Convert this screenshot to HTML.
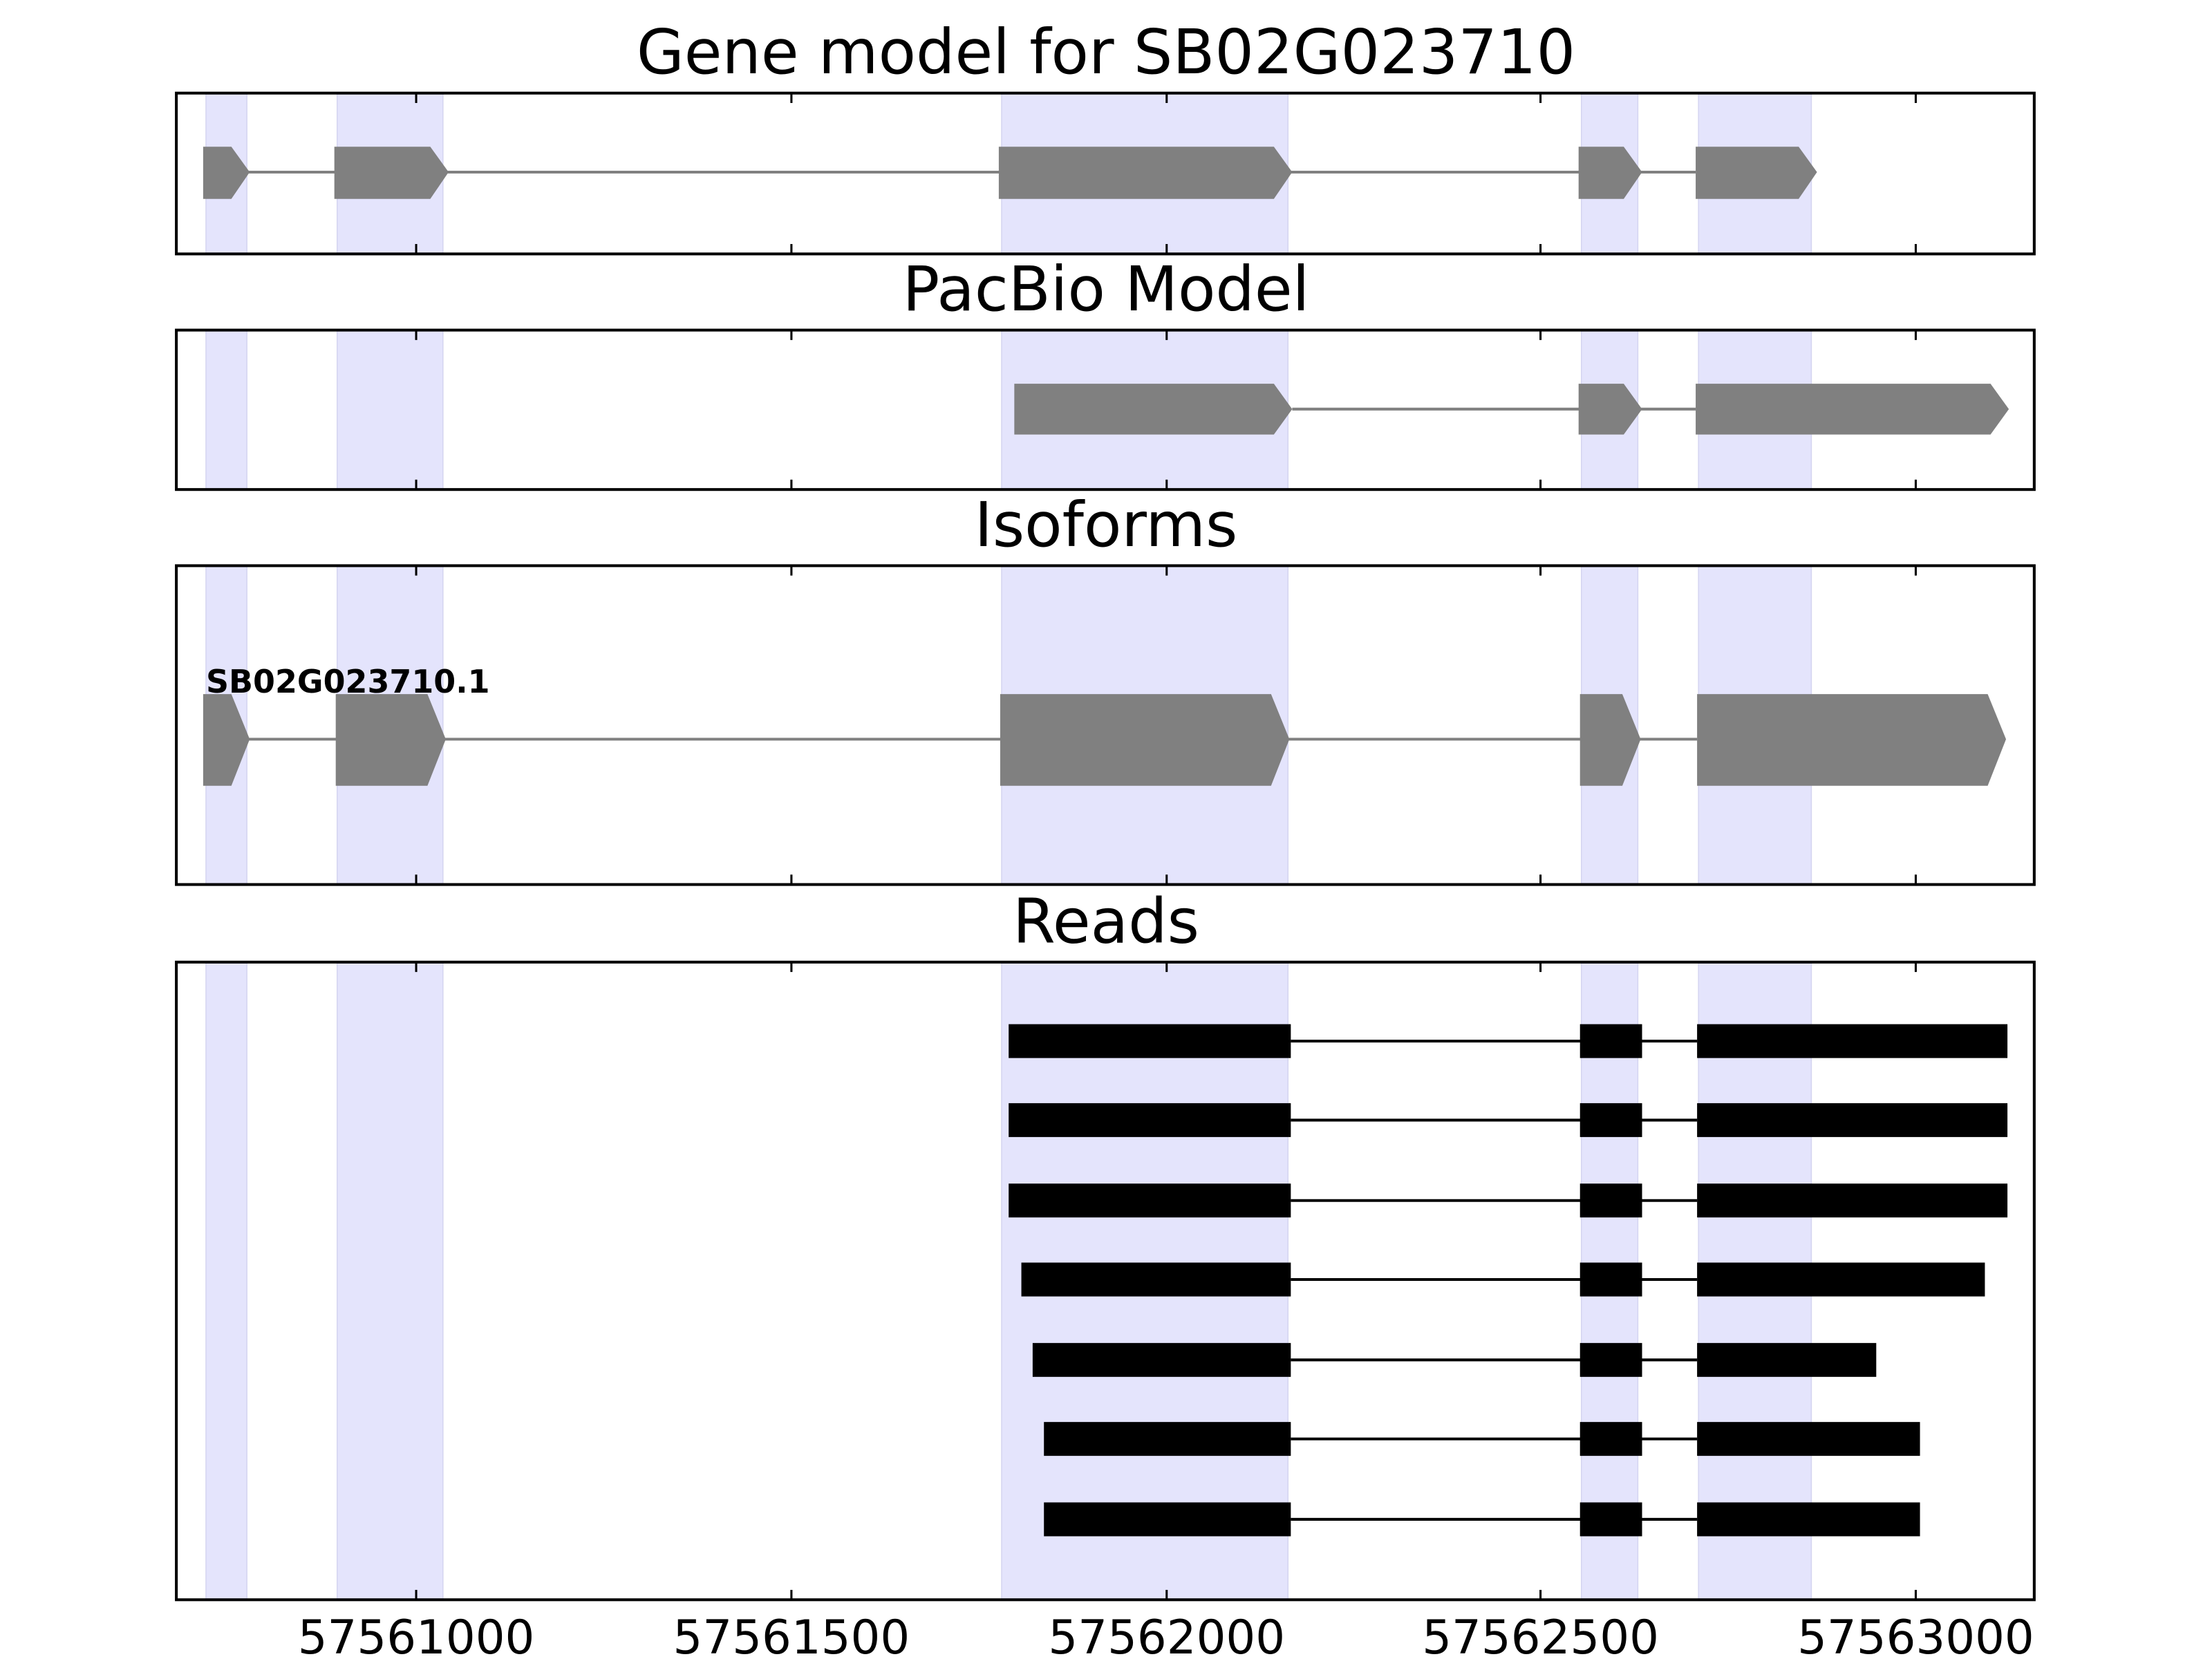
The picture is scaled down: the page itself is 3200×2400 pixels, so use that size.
<!DOCTYPE html>
<html><head><meta charset="utf-8"><style>
html,body{margin:0;padding:0;background:#fff;}
svg{display:block;}
text{font-family:"DejaVu Sans","Liberation Sans",sans-serif;}
</style></head><body>
<svg width="3200" height="2400" viewBox="0 0 1568 1176" xmlns="http://www.w3.org/2000/svg">
<defs>
<g id="shade">
<rect x="146" width="29" height="1" fill="#e4e4fc" stroke="#d4d4f0" stroke-width="1.5" vector-effect="non-scaling-stroke"/>
<rect x="239" width="75" height="1" fill="#e4e4fc" stroke="#d4d4f0" stroke-width="1.5" vector-effect="non-scaling-stroke"/>
<rect x="710" width="203" height="1" fill="#e4e4fc" stroke="#d4d4f0" stroke-width="1.5" vector-effect="non-scaling-stroke"/>
<rect x="1121" width="40" height="1" fill="#e4e4fc" stroke="#d4d4f0" stroke-width="1.5" vector-effect="non-scaling-stroke"/>
<rect x="1204" width="80" height="1" fill="#e4e4fc" stroke="#d4d4f0" stroke-width="1.5" vector-effect="non-scaling-stroke"/>
</g>
</defs>
<rect width="1568" height="1176" fill="#fff"/>

<use href="#shade" transform="translate(0,66) scale(1,114)"/>
<use href="#shade" transform="translate(0,234) scale(1,113)"/>
<use href="#shade" transform="translate(0,401) scale(1,226)"/>
<use href="#shade" transform="translate(0,682) scale(1,452)"/>

<line x1="170" y1="122" x2="1202" y2="122" stroke="#808080" stroke-width="2"/>
<g fill="#808080">
<polygon points="144,104 164,104 177,122 164,141 144,141"/>
<polygon points="237,104 305,104 318,122 305,141 237,141"/>
<polygon points="708,104 903,104 916,122 903,141 708,141"/>
<polygon points="1119,104 1151,104 1164,122 1151,141 1119,141"/>
<polygon points="1202,104 1275,104 1288,122 1275,141 1202,141"/>
</g>
<line x1="916" y1="290" x2="1202" y2="290" stroke="#808080" stroke-width="2"/>
<g fill="#808080">
<polygon points="719,272 903,272 916,290 903,308 719,308"/>
<polygon points="1119,272 1151,272 1164,290 1151,308 1119,308"/>
<polygon points="1202,272 1411,272 1424,290 1411,308 1202,308"/>
</g>
<line x1="170" y1="524" x2="1203" y2="524" stroke="#808080" stroke-width="2"/>
<g fill="#808080">
<polygon points="144,492 164,492 177,524 164,557 144,557"/>
<polygon points="238,492 303,492 316,524 303,557 238,557"/>
<polygon points="709,492 901,492 914,524 901,557 709,557"/>
<polygon points="1120,492 1150,492 1163,524 1150,557 1120,557"/>
<polygon points="1203,492 1409,492 1422,524 1409,557 1203,557"/>
</g>
<text x="146" y="491" font-size="22.5" font-weight="bold" fill="#000">SB02G023710.1</text>

<g fill="#000" stroke="#000">
<g transform="translate(0,738)"><line x1="915" y1="0" x2="1203" y2="0" stroke-width="2"/><rect x="715" y="-12" width="200" height="24" stroke="none"/><rect x="1120" y="-12" width="44" height="24" stroke="none"/><rect x="1203" y="-12" width="220" height="24" stroke="none"/></g>
<g transform="translate(0,794)"><line x1="915" y1="0" x2="1203" y2="0" stroke-width="2"/><rect x="715" y="-12" width="200" height="24" stroke="none"/><rect x="1120" y="-12" width="44" height="24" stroke="none"/><rect x="1203" y="-12" width="220" height="24" stroke="none"/></g>
<g transform="translate(0,851)"><line x1="915" y1="0" x2="1203" y2="0" stroke-width="2"/><rect x="715" y="-12" width="200" height="24" stroke="none"/><rect x="1120" y="-12" width="44" height="24" stroke="none"/><rect x="1203" y="-12" width="220" height="24" stroke="none"/></g>
<g transform="translate(0,907)"><line x1="915" y1="0" x2="1203" y2="0" stroke-width="2"/><rect x="724" y="-12" width="191" height="24" stroke="none"/><rect x="1120" y="-12" width="44" height="24" stroke="none"/><rect x="1203" y="-12" width="204" height="24" stroke="none"/></g>
<g transform="translate(0,964)"><line x1="915" y1="0" x2="1203" y2="0" stroke-width="2"/><rect x="732" y="-12" width="183" height="24" stroke="none"/><rect x="1120" y="-12" width="44" height="24" stroke="none"/><rect x="1203" y="-12" width="127" height="24" stroke="none"/></g>
<g transform="translate(0,1020)"><line x1="915" y1="0" x2="1203" y2="0" stroke-width="2"/><rect x="740" y="-12" width="175" height="24" stroke="none"/><rect x="1120" y="-12" width="44" height="24" stroke="none"/><rect x="1203" y="-12" width="158" height="24" stroke="none"/></g>
<g transform="translate(0,1077)"><line x1="915" y1="0" x2="1203" y2="0" stroke-width="2"/><rect x="740" y="-12" width="175" height="24" stroke="none"/><rect x="1120" y="-12" width="44" height="24" stroke="none"/><rect x="1203" y="-12" width="158" height="24" stroke="none"/></g>
</g>

<g fill="none" stroke="#000" stroke-width="2">
<rect x="125" y="66" width="1317" height="114"/>
<rect x="125" y="234" width="1317" height="113"/>
<rect x="125" y="401" width="1317" height="226"/>
<rect x="125" y="682" width="1317" height="452"/>
</g>
<g stroke="#000" stroke-width="1.5">
<path d="M295 66v7M561 66v7M827 66v7M1092 66v7M1358 66v7 M295 180v-7M561 180v-7M827 180v-7M1092 180v-7M1358 180v-7"/>
<path d="M295 234v7M561 234v7M827 234v7M1092 234v7M1358 234v7 M295 347v-7M561 347v-7M827 347v-7M1092 347v-7M1358 347v-7"/>
<path d="M295 401v7M561 401v7M827 401v7M1092 401v7M1358 401v7 M295 627v-7M561 627v-7M827 627v-7M1092 627v-7M1358 627v-7"/>
<path d="M295 682v7M561 682v7M827 682v7M1092 682v7M1358 682v7 M295 1134v-7M561 1134v-7M827 1134v-7M1092 1134v-7M1358 1134v-7"/>
</g>

<g font-size="43.6" text-anchor="middle" fill="#000">
<text x="784" y="52">Gene model for SB02G023710</text>
<text x="784" y="220">PacBio Model</text>
<text x="784" y="387">Isoforms</text>
<text x="784" y="668">Reads</text>
</g>
<g font-size="33" text-anchor="middle" fill="#000">
<text x="295" y="1172">57561000</text>
<text x="561" y="1172">57561500</text>
<text x="827" y="1172">57562000</text>
<text x="1092" y="1172">57562500</text>
<text x="1358" y="1172">57563000</text>
</g>
</svg>
</body></html>
